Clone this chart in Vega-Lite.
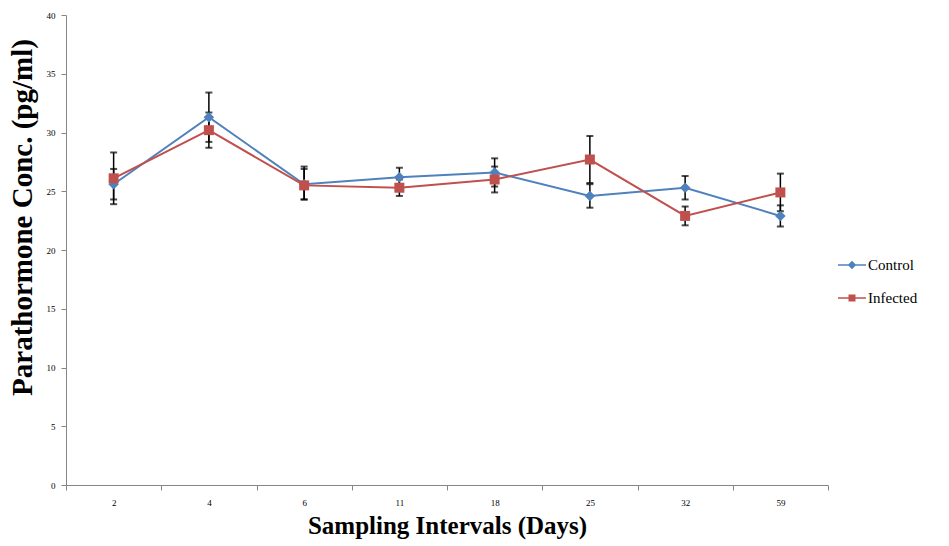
{
  "$schema": "https://vega.github.io/schema/vega-lite/v6.json",
  "width": 762,
  "height": 470,
  "autosize": {"type": "none"},
  "padding": {"left": 66, "top": 15, "right": 121, "bottom": 61},
  "background": "white",
  "config": {
    "view": {"stroke": null},
    "font": "Liberation Serif",
    "axis": {"domainColor": "#868686", "tickColor": "#868686", "grid": false, "labelColor": "#000000", "labelFont": "Liberation Serif", "titleFont": "Liberation Serif", "titleFontWeight": "bold", "titleColor": "#000000"}
  },
  "data": {
    "values": [
      {"day": "2", "group": "Control", "mean": 25.6, "lo": 24.3, "hi": 26.9},
      {"day": "4", "group": "Control", "mean": 31.3, "lo": 29.2, "hi": 33.4},
      {"day": "6", "group": "Control", "mean": 25.6, "lo": 24.3, "hi": 26.9},
      {"day": "11", "group": "Control", "mean": 26.2, "lo": 25.4, "hi": 27.0},
      {"day": "18", "group": "Control", "mean": 26.6, "lo": 25.4, "hi": 27.8},
      {"day": "25", "group": "Control", "mean": 24.6, "lo": 23.6, "hi": 25.6},
      {"day": "32", "group": "Control", "mean": 25.3, "lo": 24.3, "hi": 26.3},
      {"day": "59", "group": "Control", "mean": 22.9, "lo": 22.0, "hi": 23.8},
      {"day": "2", "group": "Infected", "mean": 26.1, "lo": 23.9, "hi": 28.3},
      {"day": "4", "group": "Infected", "mean": 30.2, "lo": 28.7, "hi": 31.7},
      {"day": "6", "group": "Infected", "mean": 25.5, "lo": 24.3, "hi": 27.1},
      {"day": "11", "group": "Infected", "mean": 25.3, "lo": 24.6, "hi": 26.0},
      {"day": "18", "group": "Infected", "mean": 26.0, "lo": 24.9, "hi": 27.1},
      {"day": "25", "group": "Infected", "mean": 27.7, "lo": 25.7, "hi": 29.7},
      {"day": "32", "group": "Infected", "mean": 22.9, "lo": 22.1, "hi": 23.7},
      {"day": "59", "group": "Infected", "mean": 24.9, "lo": 23.3, "hi": 26.5}
    ]
  },
  "encoding": {
    "x": {
      "field": "day", "type": "ordinal", "sort": null,
      "scale": {"type": "band", "paddingInner": 0, "paddingOuter": 0},
      "axis": {"title": "Sampling Intervals (Days)", "labelAngle": 0, "labelFontSize": 9, "tickBand": "extent", "tickSize": 5, "labelPadding": 8, "titleFontSize": 25, "titlePadding": 6}
    },
    "color": {"field": "group", "type": "nominal", "scale": {"domain": ["Control", "Infected"], "range": ["#4F81BD", "#C0504D"]},
      "legend": {"orient": "none", "legendX": 772, "legendY": 236, "title": null, "labelFontSize": 15, "labelFont": "Liberation Serif", "labelColor": "#000000", "symbolSize": 784, "rowPadding": 11, "labelOffset": 2, "symbolOpacity": 1,
        "encode": {"symbols": {"update": {
          "shape": {"signal": "datum.value == 'Control' ? 'M-1,-0.05H1V0.05H-1Z M0,-0.3L0.3,0L0,0.3L-0.3,0Z' : 'M-1,-0.05H1V0.05H-1Z M-0.25,-0.25H0.25V0.25H-0.25Z'"},
          "fill": {"signal": "datum.value == 'Control' ? '#4F81BD' : '#C0504D'"},
          "fillOpacity": {"value": 1},
          "strokeWidth": {"value": 0}
        }}}}}
  },
  "layer": [
    {
      "mark": {"type": "line", "strokeWidth": 2},
      "encoding": {
        "y": {"field": "mean", "type": "quantitative", "scale": {"domain": [0, 40]},
          "axis": {"title": "Parathormone Conc. (pg/ml)", "values": [0,5,10,15,20,25,30,35,40], "labelFontSize": 9, "tickSize": 5, "labelPadding": 6, "titleFontSize": 29, "titleX": -44, "titleY": 202, "titleAlign": "center", "titleBaseline": "middle", "titleAngle": -90}}
      }
    },
    {
      "mark": {"type": "rule", "strokeWidth": 1.5},
      "encoding": {"y": {"field": "lo", "type": "quantitative"}, "y2": {"field": "hi"}, "color": {"value": "#000000"}}
    },
    {
      "mark": {"type": "tick", "thickness": 2, "size": 7},
      "encoding": {"y": {"field": "lo", "type": "quantitative"}, "color": {"value": "#000000"}}
    },
    {
      "mark": {"type": "tick", "thickness": 2, "size": 7},
      "encoding": {"y": {"field": "hi", "type": "quantitative"}, "color": {"value": "#000000"}}
    },
    {
      "transform": [{"filter": "datum.group == 'Control'"}],
      "mark": {"type": "point", "filled": true, "opacity": 1, "size": 110, "shape": "diamond"},
      "encoding": {"y": {"field": "mean", "type": "quantitative"}}
    },
    {
      "transform": [{"filter": "datum.group == 'Infected'"}],
      "mark": {"type": "point", "filled": true, "opacity": 1, "size": 100, "shape": "square"},
      "encoding": {"y": {"field": "mean", "type": "quantitative"}}
    }
  ]
}
